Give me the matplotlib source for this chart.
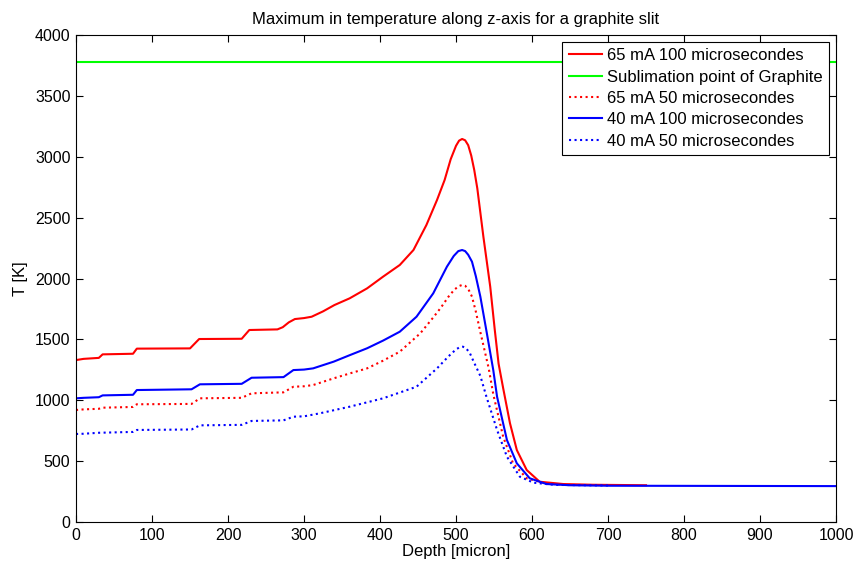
import matplotlib
matplotlib.use("Agg")
import matplotlib.pyplot as plt
import numpy as np

plt.rcParams['font.family'] = ['Liberation Sans', 'DejaVu Sans']
plt.rcParams['font.size'] = 11.5

# 65 mA 100 microsecondes
x_r100 = [0, 10, 30, 35, 75, 80, 150, 162, 218, 228, 265, 272, 280, 288, 300, 310, 325, 340, 360,
          383, 404, 426, 444, 461, 475, 485, 493, 500, 504, 508, 512, 516, 520, 524, 528, 536, 545,
          551, 556, 562, 571, 580, 593, 610, 641, 680, 716, 750]
t_r100 = [1330, 1340, 1348, 1377, 1382, 1424, 1426, 1503, 1505, 1577, 1582, 1600, 1640, 1667, 1675,
          1686, 1730, 1782, 1837, 1919, 2015, 2111, 2234, 2439, 2645, 2809, 2980, 3090, 3132, 3146,
          3135, 3095, 3010, 2890, 2740, 2343, 1933, 1577, 1300, 1100, 811, 591, 427, 331, 312, 306,
          304, 302]

# sublimation point
x_sub = [0, 1000]
t_sub = [3780, 3780]

# 65 mA 50 microsecondes
x_r50 = [0, 10, 30, 35, 75, 80, 152, 163, 218, 231, 273, 286, 300, 312, 339, 360, 383, 404, 426,
         453, 470, 480, 490, 498, 504, 508, 512, 516, 521, 526, 532, 543, 549, 562, 575, 593, 620, 650]
t_r50 = [920, 925, 930, 939, 945, 967, 970, 1016, 1020, 1057, 1065, 1111, 1115, 1125, 1180, 1220,
         1262, 1325, 1399, 1550, 1680, 1760, 1850, 1910, 1938, 1947, 1940, 1915, 1851, 1730, 1560,
         1262, 1050, 701, 482, 359, 315, 305]

# 40 mA 100 microsecondes
x_b100 = [0, 10, 30, 35, 75, 80, 152, 163, 218, 231, 273, 286, 300, 312, 339, 360, 383, 404, 426,
          448, 470, 488, 497, 503, 508, 512, 516, 521, 526, 532, 540, 549, 554, 567, 580, 597, 619,
          650, 700, 1000]
t_b100 = [1016, 1020, 1025, 1040, 1045, 1084, 1090, 1131, 1135, 1185, 1190, 1248, 1252, 1262, 1317,
          1370, 1427, 1490, 1563, 1686, 1878, 2097, 2185, 2225, 2234, 2225, 2195, 2138, 2020, 1851,
          1570, 1248, 1029, 673, 482, 359, 312, 302, 298, 295]

# 40 mA 50 microsecondes
x_b50 = [0, 10, 30, 75, 80, 152, 163, 218, 231, 273, 286, 300, 321, 360, 404, 448, 475, 490, 500,
         505, 509, 513, 518, 523, 532, 540, 554, 567, 584, 602, 630, 700]
t_b50 = [723, 725, 733, 740, 756, 760, 794, 798, 830, 835, 865, 868, 893, 947, 1016, 1111, 1262,
         1360, 1418, 1436, 1440, 1428, 1390, 1320, 1200, 1029, 756, 536, 372, 323, 305, 300]

fig = plt.figure(figsize=(8.58, 5.66), dpi=100)
ax = fig.add_axes([0.0886, 0.0777, 0.8858, 0.8605])

ax.plot(x_r100, t_r100, color=(1, 0, 0), lw=1.5, label='65 mA 100 microsecondes')
ax.plot(x_sub, t_sub, color=(0, 1, 0), lw=1.5, label='Sublimation point of Graphite')
ax.plot(x_r50, t_r50, color=(1, 0, 0), lw=1.5, ls=':', label='65 mA 50 microsecondes')
ax.plot(x_b100, t_b100, color=(0, 0, 1), lw=1.5, label='40 mA 100 microsecondes')
ax.plot(x_b50, t_b50, color=(0, 0, 1), lw=1.5, ls=':', label='40 mA 50 microsecondes')

ax.set_xlim(0, 1000)
ax.set_ylim(0, 4000)
ax.set_xticks(np.arange(0, 1001, 100))
ax.set_yticks(np.arange(0, 4001, 500))
ax.tick_params(direction='in', top=True, right=True, length=5, labelsize=11.5, pad=4)
ax.set_xlabel('Depth [micron]', fontsize=12, labelpad=1)
ax.set_ylabel('T [K]', fontsize=12, labelpad=5)
ax.set_title('Maximum in temperature along z-axis for a graphite slit', fontsize=12, pad=8)

leg = ax.legend(loc='upper right', fancybox=False, framealpha=1, edgecolor='black',
                prop={'size': 12}, borderaxespad=0.4, handlelength=2.0, labelspacing=0.38,
                borderpad=0.4, handletextpad=0.3)
leg.get_frame().set_linewidth(0.8)

fig.savefig('out.png', dpi=100)
